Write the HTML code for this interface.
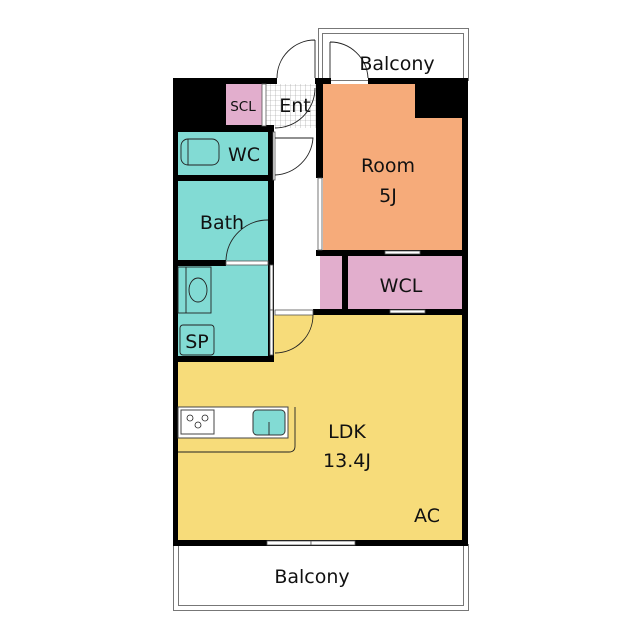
<!DOCTYPE html>
<html><head><meta charset="utf-8"><style>html,body{margin:0;padding:0;background:#fff}svg{display:block}text{font-family:"DejaVu Sans","Liberation Sans",sans-serif;fill:#111}</style></head><body>
<svg width="640" height="640" viewBox="0 0 640 640" xmlns="http://www.w3.org/2000/svg">
<defs><pattern id="g" width="5" height="5" patternUnits="userSpaceOnUse"><rect width="5" height="5" fill="#fff"/><path d="M0 0H5M0 0V5" stroke="#999" stroke-width="0.6"/></pattern></defs>
<rect x="318.5" y="28.5" width="150" height="52" fill="#fff" stroke="#777"/>
<rect x="322.5" y="33.5" width="141" height="47" fill="none" stroke="#777"/>
<rect x="173.5" y="544.5" width="295" height="66" fill="#fff" stroke="#777"/>
<rect x="178.5" y="544.5" width="285" height="61" fill="none" stroke="#777"/>
<rect x="178" y="315" width="286" height="227" fill="#f7dc7a"/>
<rect x="323" y="84" width="140" height="170" fill="#f6ab7a"/>
<rect x="320" y="256" width="144" height="55" fill="#e2aecd"/>
<rect x="226" y="84" width="36" height="42" fill="#e2aecd"/>
<rect x="266" y="84" width="50" height="44" fill="url(#g)"/>
<rect x="178" y="130" width="92" height="232" fill="#82dbd4"/>
<g fill="#000">
<rect x="173" y="78" width="104" height="6"/>
<rect x="315" y="78" width="16" height="6"/>
<rect x="368" y="78" width="100" height="6"/>
<rect x="173" y="78" width="53" height="48"/>
<rect x="415" y="78" width="53" height="40"/>
<rect x="173" y="78" width="5" height="468"/>
<rect x="462" y="78" width="6" height="468"/>
<rect x="173" y="540" width="295" height="6"/>
<rect x="173" y="125" width="100" height="7"/>
<rect x="173" y="175" width="100" height="6"/>
<rect x="173" y="260" width="53" height="6"/>
<rect x="268" y="125" width="6" height="237"/>
<rect x="173" y="356" width="101" height="6"/>
<rect x="316" y="78" width="7" height="100"/>
<rect x="316" y="250" width="152" height="6"/>
<rect x="342" y="256" width="6" height="55"/>
<rect x="313" y="309" width="155" height="6"/>
</g>
<g fill="#fff" stroke="#555" stroke-width="0.8">
<rect x="226" y="261" width="42" height="4"/>
<rect x="318" y="178" width="4" height="72"/>
<rect x="270" y="265" width="3" height="45"/>
<rect x="270" y="310" width="3" height="45"/>
<rect x="385" y="251" width="35" height="3"/>
<rect x="390" y="310" width="35" height="3"/>
<rect x="267" y="541" width="44" height="4"/>
<rect x="311" y="541" width="44" height="4"/>
<rect x="275" y="310" width="38" height="5"/>
<rect x="273" y="132" width="2" height="48"/>
<rect x="262" y="84" width="4" height="42"/>
</g>
<g fill="none" stroke="#222" stroke-width="0.9">
<path d="M315 40 V78 M315 40 A38 38 0 0 0 277 78"/>
<path d="M330 42 V78 M330 42 A38 38 0 0 1 368 78"/>
<path d="M275 128 A40 40 0 0 0 315 88"/>
<path d="M275 138 H313 A40 40 0 0 1 275 175"/>
<path d="M268 220 A42 42 0 0 0 226 260"/>
<path d="M313 315 A38 38 0 0 1 275 353"/>
<rect x="181" y="139" width="38" height="26" rx="7"/>
<line x1="188" y1="139" x2="188" y2="165"/>
<rect x="178" y="267" width="33" height="46"/>
<line x1="186" y1="267" x2="186" y2="313"/>
<ellipse cx="198" cy="290" rx="9" ry="12"/>
<rect x="180" y="325" width="34" height="30" rx="3"/>
<path d="M178 438 H288 M295 407 V446 Q295 452 289 452 H178"/>
</g>
<rect x="178" y="407" width="110" height="31" fill="#fff" stroke="#444"/>
<rect x="181" y="410" width="33" height="24" fill="#fff" stroke="#444"/>
<g fill="none" stroke="#222" stroke-width="0.8"><circle cx="190" cy="418" r="3"/><circle cx="205" cy="418" r="3"/><circle cx="198" cy="425" r="3"/></g>
<rect x="253" y="410" width="32" height="25" rx="4" fill="#82dbd4" stroke="#333"/>
<line x1="269" y1="422" x2="269" y2="435" stroke="#333"/>
<g font-size="19" text-anchor="middle">
<text x="397" y="70">Balcony</text>
<text x="295" y="112">Ent</text>
<text x="244" y="161">WC</text>
<text x="388" y="172">Room</text>
<text x="388" y="202">5J</text>
<text x="222" y="229">Bath</text>
<text x="401" y="292">WCL</text>
<text x="197" y="348">SP</text>
<text x="347" y="438">LDK</text>
<text x="347" y="467">13.4J</text>
<text x="427" y="522">AC</text>
<text x="312" y="583">Balcony</text>
</g>
<text x="243" y="111" font-size="13.5" text-anchor="middle">SCL</text>
</svg>
</body></html>
